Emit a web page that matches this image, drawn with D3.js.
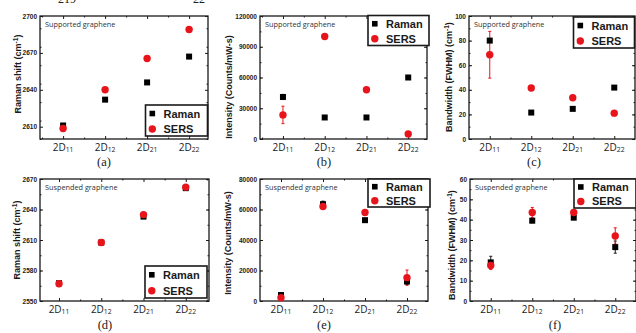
<!DOCTYPE html>
<html>
<head>
<meta charset="utf-8">
<script src="https://cdn.jsdelivr.net/npm/d3@7/dist/d3.min.js"></script>
<style>
  body { margin: 0; background: #fff; }
  svg { display: block; }
</style>
</head>
<body>
<svg id="chart" width="636" height="333"></svg>
<script>
// Categories (2D band components)
const categories = ["11", "12", "21", "22"];
const catPos = [1, 2, 3, 4];

// (a) Raman shift, supported graphene
const shiftSupRaman = [2611, 2632, 2646, 2667];
const shiftSupSers = [2608.5, 2640, 2665.5, 2689];

// (b) Intensity, supported graphene
const intSupRaman = [41000, 21000, 21000, 60000];
const intSupRamanErr = [2500, 0, 0, 0];
const intSupSers = [23500, 100000, 48000, 5000];
const intSupSersErr = [8500, 0, 0, 0];

// (c) Bandwidth, supported graphene
const bwSupRaman = [80, 21.5, 24.5, 41.8];
const bwSupRamanErr = [0, 0, 0, 0];
const bwSupSers = [68.5, 41.5, 33.5, 21];
const bwSupSersErr = [19, 0, 0, 0];

// (d) Raman shift, suspended graphene
const shiftSusRaman = [2567.5, 2607.5, 2633, 2661];
const shiftSusSers = [2567, 2607.5, 2635, 2662];

// (e) Intensity, suspended graphene
const intSusRaman = [3900, 63500, 53000, 12800];
const intSusRamanErr = [1000, 2000, 1000, 2000];
const intSusSers = [2200, 62000, 58000, 15300];
const intSusSersErr = [1000, 1500, 1000, 5000];

// (f) Bandwidth, suspended graphene
const bwSusRaman = [19, 39.5, 41, 26.5];
const bwSusRamanErr = [3, 1, 1, 3];
const bwSusSers = [17.5, 43.5, 43.5, 32];
const bwSusSersErr = [2, 2.5, 1.5, 4];

// Tick values
const shiftSupTicks = [2610, 2640, 2670, 2700];
const intSupTicks = [0, 30000, 60000, 90000, 120000];
const bwSupTicks = [0, 20, 40, 60, 80, 100];
const shiftSusTicks = [2550, 2580, 2610, 2640, 2670];
const intSusTicks = [0, 20000, 40000, 60000, 80000];
const bwSusTicks = [0, 10, 20, 30, 40, 50, 60];

const RED = "#e8141b";
const INK = "#1a1a1a";

const zeros = [0, 0, 0, 0];

const panels = [
  { label: "(a)", labelX: 104, labelY: 166, box: [40, 208, 16, 139], xStart: 0.45,
    yDomain: [2600, 2700], ticks: shiftSupTicks, minor: 15, title: "Raman shift (cm", titleX: 21, titleY: 74,
    note: "Supported graphene", raman: shiftSupRaman, ramanErr: zeros, sers: shiftSupSers, sersErr: zeros,
    legend: [145.5, 105, 62, 31] },
  { label: "(b)", labelX: 324, labelY: 166, box: [260, 427, 16, 139], xStart: 0.45,
    yDomain: [0, 120000], ticks: intSupTicks, minor: 15000, title: "Intensity (Counts/mW-s)", titleX: 232, titleY: 87,
    note: "Supported graphene", raman: intSupRaman, ramanErr: intSupRamanErr, sers: intSupSers, sersErr: intSupSersErr,
    legend: [368, 15.5, 61, 30] },
  { label: "(c)", labelX: 534, labelY: 166, box: [469, 635, 16, 139], xStart: 0.5,
    yDomain: [0, 100], ticks: bwSupTicks, minor: 10, title: "Bandwidth (FWHM) (cm", titleX: 452, titleY: 77,
    note: "Supported graphene", raman: bwSupRaman, ramanErr: bwSupRamanErr, sers: bwSupSers, sersErr: bwSupSersErr,
    legend: [573.5, 17, 61, 31] },
  { label: "(d)", labelX: 105, labelY: 328.5, box: [40, 209, 179, 301], xStart: 0.55,
    yDomain: [2550, 2670], ticks: shiftSusTicks, minor: 15, title: "Raman shift (cm", titleX: 20, titleY: 240,
    note: "Suspended graphene", raman: shiftSusRaman, ramanErr: zeros, sers: shiftSusSers, sersErr: zeros,
    legend: [145, 266, 62, 32] },
  { label: "(e)", labelX: 324, labelY: 328.5, box: [260, 428, 179, 301], xStart: 0.5,
    yDomain: [0, 80000], ticks: intSusTicks, minor: 10000, title: "Intensity (Counts/mW-s)", titleX: 231, titleY: 243,
    note: "Suspended graphene", raman: intSusRaman, ramanErr: intSusRamanErr, sers: intSusSers, sersErr: intSusSersErr,
    legend: [368, 179, 62, 28] },
  { label: "(f)", labelX: 555, labelY: 328.5, box: [470, 636, 179, 301], xStart: 0.5,
    yDomain: [0, 60], ticks: bwSusTicks, minor: 5, title: "Bandwidth (FWHM) (cm", titleX: 455, titleY: 245,
    note: "Suspended graphene", raman: bwSusRaman, ramanErr: bwSusRamanErr, sers: bwSusSers, sersErr: bwSusSersErr,
    legend: [574, 179, 62, 29] }
];

const svg = d3.select("#chart");

// Cut-off caption fragments at the very top
svg.append("text").attr("x", 58).attr("y", 3).attr("font-family", "Liberation Serif")
  .attr("font-size", 12).attr("fill", "#222").text("219");
svg.append("text").attr("x", 193).attr("y", 3).attr("font-family", "Liberation Serif")
  .attr("font-size", 12).attr("fill", "#222").text("22");

function minorValues(domain, step) {
  const out = [];
  for (let v = domain[0]; v <= domain[1] + 1e-9; v += step) out.push(v);
  return out;
}

function drawPanel(p) {
  const [x0, x1, y0, y1] = p.box;
  const g = svg.append("g");

  const x = d3.scaleLinear().domain([p.xStart, p.xStart + 4]).range([x0, x1]);
  const y = d3.scaleLinear().domain(p.yDomain).range([y1, y0]);

  // Inward ticks on all four sides
  const xMinor = [0.5, 1.5, 2.5, 3.5, 4.5].filter(v => v > p.xStart && v < p.xStart + 4);
  const yMinor = minorValues(p.yDomain, p.minor);

  const addAxis = (axis, tx, ty) => {
    const a = g.append("g").attr("transform", `translate(${tx},${ty})`).call(axis);
    a.select(".domain").remove();
    a.selectAll("line").attr("stroke", INK).attr("stroke-width", 1);
    return a;
  };

  addAxis(d3.axisBottom(x).tickValues(catPos).tickSize(-3).tickFormat(""), 0, y1);
  addAxis(d3.axisBottom(x).tickValues(xMinor).tickSize(-1.5).tickFormat(""), 0, y1);
  addAxis(d3.axisTop(x).tickValues(catPos).tickSize(-3).tickFormat(""), 0, y0);
  addAxis(d3.axisTop(x).tickValues(xMinor).tickSize(-1.5).tickFormat(""), 0, y0);
  addAxis(d3.axisRight(y).tickValues(p.ticks).tickSize(-3).tickFormat(""), x1, 0);
  addAxis(d3.axisRight(y).tickValues(yMinor).tickSize(-1.5).tickFormat(""), x1, 0);
  addAxis(d3.axisLeft(y).tickValues(yMinor).tickSize(-1.5).tickFormat(""), x0, 0);
  const left = addAxis(d3.axisLeft(y).tickValues(p.ticks).tickSize(-3).tickPadding(3).tickFormat(d3.format("d")), x0, 0);
  left.selectAll("text")
    .attr("font-family", "Liberation Sans, Arial, sans-serif")
    .attr("font-weight", "bold")
    .attr("font-size", 6.5)
    .attr("fill", INK);

  // Frame
  g.append("rect")
    .attr("x", x0).attr("y", y0)
    .attr("width", x1 - x0).attr("height", y1 - y0)
    .attr("fill", "none").attr("stroke", INK).attr("stroke-width", 1.3);

  // Category labels 2D with subscripts
  categories.forEach((c, i) => {
    const t = g.append("text")
      .attr("x", x(catPos[i]))
      .attr("y", y1 + 11.5)
      .attr("text-anchor", "middle")
      .attr("font-family", "Open Sans, sans-serif")
      .attr("font-size", 10)
      .attr("fill", INK);
    t.append("tspan").text("2D");
    t.append("tspan").attr("dy", 1.8).attr("font-size", 6.8).text(c);
  });

  // Y title
  const title = g.append("text")
    .attr("transform", `translate(${p.titleX},${p.titleY}) rotate(-90)`)
    .attr("text-anchor", "middle")
    .attr("font-family", "Liberation Sans, Arial, sans-serif")
    .attr("font-weight", "bold")
    .attr("font-size", 9)
    .attr("fill", INK);
  title.append("tspan").text(p.title);
  if (p.title.endsWith("(cm")) {
    title.append("tspan").attr("dy", -3.5).attr("font-size", 6.5).text("-1");
    title.append("tspan").attr("dy", 3.5).text(")");
  }

  // Note
  g.append("text")
    .attr("x", x0 + 5).attr("y", y0 + 11)
    .attr("font-family", "Open Sans, sans-serif")
    .attr("font-size", 7.3)
    .attr("fill", "#333")
    .text(p.note);

  // Error bars
  const drawErr = (vals, errs, color) => {
    vals.forEach((v, i) => {
      const e = errs[i];
      if (!e) return;
      const cx = x(catPos[i]);
      g.append("line").attr("x1", cx).attr("x2", cx)
        .attr("y1", y(v - e)).attr("y2", y(v + e))
        .attr("stroke", color).attr("stroke-width", 1);
      [v - e, v + e].forEach(b => {
        g.append("line").attr("x1", cx - 1.5).attr("x2", cx + 1.5)
          .attr("y1", y(b)).attr("y2", y(b))
          .attr("stroke", color).attr("stroke-width", 1);
      });
    });
  };
  drawErr(p.raman, p.ramanErr, INK);
  drawErr(p.sers, p.sersErr, RED);

  // Raman squares
  g.selectAll(".raman")
    .data(p.raman)
    .enter()
    .append("rect")
    .attr("class", "raman")
    .attr("x", (d, i) => x(catPos[i]) - 3)
    .attr("y", d => y(d) - 3)
    .attr("width", 6).attr("height", 6)
    .attr("fill", "#000");

  // SERS circles
  g.selectAll(".sers")
    .data(p.sers)
    .enter()
    .append("circle")
    .attr("class", "sers")
    .attr("cx", (d, i) => x(catPos[i]))
    .attr("cy", d => y(d))
    .attr("r", 3.7)
    .attr("fill", RED);

  // Legend
  const [lx, ly, lw, lh] = p.legend;
  g.append("rect")
    .attr("x", lx).attr("y", ly).attr("width", lw).attr("height", lh)
    .attr("fill", "#fff").attr("stroke", INK).attr("stroke-width", 1.6);
  const rowH = lh / 2;
  g.append("rect")
    .attr("x", lx + 4).attr("y", ly + rowH * 0.55 - 2.8)
    .attr("width", 5.6).attr("height", 5.6).attr("fill", "#000");
  g.append("circle")
    .attr("cx", lx + 6.8).attr("cy", ly + rowH * 1.55)
    .attr("r", 3.7).attr("fill", RED);
  [["Raman", 0.55], ["SERS", 1.55]].forEach(([name, k]) => {
    g.append("text")
      .attr("x", lx + 18).attr("y", ly + rowH * k + 4)
      .attr("font-family", "Liberation Sans, Arial, sans-serif")
      .attr("font-weight", "bold")
      .attr("font-size", 11)
      .attr("fill", INK)
      .text(name);
  });

  // Panel label
  g.append("text")
    .attr("x", p.labelX).attr("y", p.labelY)
    .attr("text-anchor", "middle")
    .attr("font-family", "Liberation Serif, serif")
    .attr("font-size", 12.5)
    .attr("fill", INK)
    .text(p.label);
}

panels.forEach(drawPanel);
</script>
</body>
</html>
